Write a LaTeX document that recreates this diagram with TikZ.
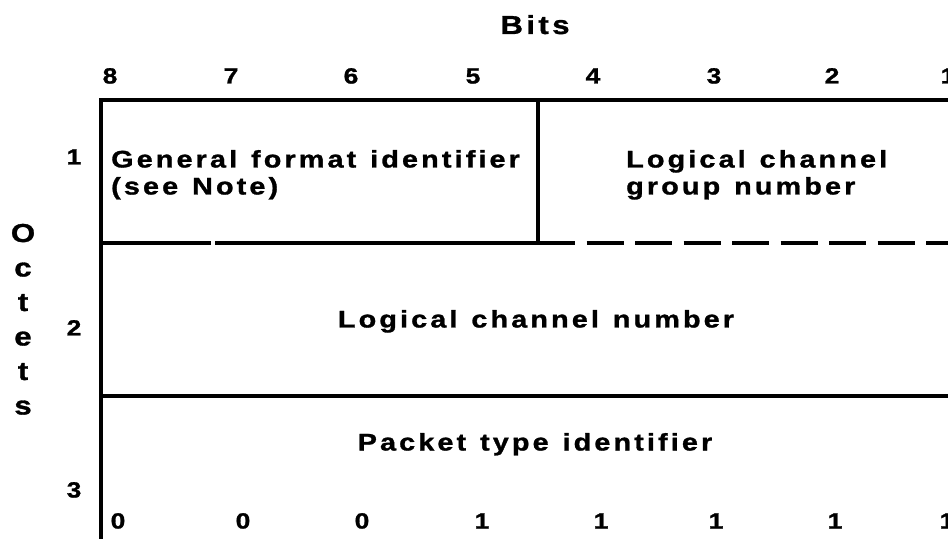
\documentclass[tikz,border=0pt]{standalone}
\usepackage{fontspec}
\newfontfamily\lab[LetterSpace=13,WordSpace=1.25,FakeStretch=1.2,FakeBold=1.2]{Liberation Sans Bold}
\begin{document}
\begin{tikzpicture}[x=1bp,y=-1bp,
  lab/.style={font=\lab\fontsize{24bp}{28bp}\selectfont, inner sep=0pt},
  num/.style={font=\lab\fontsize{22bp}{28bp}\selectfont, inner sep=0pt},
  big/.style={font=\lab\fontsize{26bp}{30bp}\selectfont, inner sep=0pt},
  rule/.style={line width=3.1bp, line cap=butt},
  dashrule/.style={rule, dash pattern=on 37bp off 11.5bp}]
\useasboundingbox (0,0) rectangle (948,539);
% frame
\draw[rule] (101,539) -- (101,100) -- (948,100);
\draw[rule] (538,100) -- (538,243);
\draw[rule] (101,243) -- (211,243);
\draw[rule] (215,243) -- (538,243);
\draw[dashrule] (538,243) -- (948,243);
\draw[rule] (101,396) -- (948,396);
% headings
\node[big, anchor=base] (bits) at (535,34) {Bits};
\foreach \n/\x in {8/110,7/231,6/351,5/473,4/593,3/714,2/832,1/948}
  \node[num, anchor=base] (b\n) at (\x,83.5) {\n};
\foreach \t/\y [count=\i] in {O/242,c/276.5,t/311,e/345.5,t/380,s/414.5}
  \node[big, anchor=base] (oc\i) at (23,\y) {\t};
\node[num, anchor=base] (o1) at (74,164.5) {1};
\node[num, anchor=base] (o2) at (74,335.5) {2};
\node[num, anchor=base] (o3) at (74,497.5) {3};
% fields
\node[lab, anchor=base west] (gfi1) at (111,167.5) {General format identifier};
\node[lab, anchor=base west] (gfi2) at (111,194.5) {(see Note)};
\node[lab, anchor=base west] (lcg1) at (626,167.5) {Logical channel};
\node[lab, anchor=base west] (lcg2) at (626,194.5) {group number};
\node[lab, anchor=base] (lcn) at (536,327.5) {Logical channel number};
\node[lab, anchor=base] (pti) at (535,450.5) {Packet type identifier};
% bottom bit values
\foreach \v/\x [count=\i] in {0/118,0/243,0/362,1/482,1/601,1/716,1/835,1/947}
  \node[num, anchor=base] (v\i) at (\x,528.5) {\v};
\end{tikzpicture}
\end{document}
